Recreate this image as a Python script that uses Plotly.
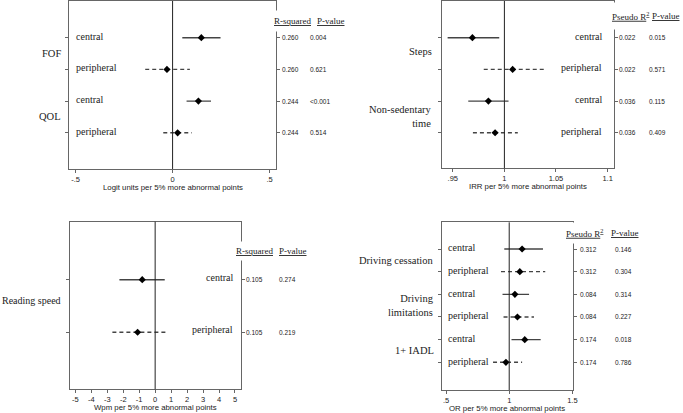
import plotly.graph_objects as go

# ---- data ----
fof_labels = ["central", "peripheral", "central", "peripheral"]
fof_groups = ["FOF", "QOL"]
fof_est = [0.148, -0.029, 0.133, 0.026]
fof_lo = [0.050, -0.141, 0.072, -0.048]
fof_hi = [0.247, 0.089, 0.198, 0.099]
fof_r2 = ["0.260", "0.260", "0.244", "0.244"]
fof_p = ["0.004", "0.621", "&lt;0.001", "0.514"]

act_labels = ["central", "peripheral", "central", "peripheral"]
act_groups = ["Steps", "Non-sedentary<br>time"]
act_est = [0.969, 1.008, 0.9845, 0.991]
act_lo = [0.945, 0.980, 0.965, 0.9695]
act_hi = [0.995, 1.039, 1.004, 1.013]
act_r2 = ["0.022", "0.022", "0.036", "0.036"]
act_p = ["0.015", "0.571", "0.115", "0.409"]

read_labels = ["central", "peripheral"]
read_groups = ["Reading speed"]
read_est = [-0.81, -1.10]
read_lo = [-2.24, -2.68]
read_hi = [0.60, 0.65]
read_r2 = ["0.105", "0.105"]
read_p = ["0.274", "0.219"]

drv_labels = ["central", "peripheral"] * 3
drv_groups = ["Driving cessation", "Driving<br>limitations", "1+ IADL"]
drv_est = [1.102, 1.084, 1.045, 1.065, 1.123, 0.974]
drv_lo = [0.961, 0.935, 0.947, 0.955, 1.018, 0.872]
drv_hi = [1.267, 1.285, 1.157, 1.196, 1.249, 1.102]
drv_r2 = ["0.312", "0.312", "0.084", "0.084", "0.174", "0.174"]
drv_p = ["0.146", "0.304", "0.314", "0.227", "0.018", "0.786"]

SERIF = "Liberation Serif, Times New Roman, serif"
SANS = "Liberation Sans, Arial, sans-serif"
BOX = "#666"
INK = "#222"

fig = go.Figure()
annotations = []
shapes = []

panels = [
    dict(labels=fof_labels, groups=fof_groups, group_y=[1.5, 3.5], est=fof_est, lo=fof_lo, hi=fof_hi,
         r2=fof_r2, p=fof_p, head1="R-squared", ref=0,
         xdom=[0.1025, 0.4066], ydom=[0.5908, 0.9976], xrange=[-0.531, 0.531], yrange=[5.142, -0.158],
         tickvals=[-0.5, 0, 0.5], ticktext=["-.5", "0", ".5"],
         xtitle="Logit units per 5% more abnormal points",
         lab_x=0.024, lab_anchor="left", grp_x=-0.038, grp_size=10.5,
         r2_x=1.019, p_x=1.155, h1_x=0.962, h2_x=1.192, h_y=0.464, pad=5),
    dict(labels=act_labels, groups=act_groups, group_y=[1.45, 3.5], est=act_est, lo=act_lo, hi=act_hi,
         r2=act_r2, p=act_p, head1="Pseudo R<sup>2</sup>", ref=1,
         xdom=[0.6526, 0.9053], ydom=[0.5925, 0.9976], xrange=[0.940, 1.106], yrange=[5.12, -0.158],
         tickvals=[0.95, 1, 1.05, 1.1], ticktext=[".95", "1", "1.05", "1.1"],
         xtitle="IRR per 5% more abnormal points",
         lab_x=0.944, lab_anchor="right", grp_x=-0.058, grp_size=10.5,
         r2_x=1.016, p_x=1.196, h1_x=0.94, h2_x=1.21, h_y=0.315, pad=7),
    dict(labels=read_labels, groups=read_groups, group_y=[1.4], est=read_est, lo=read_lo, hi=read_hi,
         r2=read_r2, p=read_p, head1="R-squared", ref=0,
         xdom=[0.1029, 0.3548], ydom=[0.0574, 0.4632], xrange=[-5.35, 5.35], yrange=[3.084, -0.103],
         tickvals=list(range(-5, 6)), ticktext=[str(v) for v in range(-5, 6)],
         xtitle="Wpm per 5% more abnormal points",
         lab_x=0.966, lab_anchor="right", grp_x=-0.045, grp_size=10,
         r2_x=1.0215, p_x=1.215, h1_x=0.944, h2_x=1.215, h_y=0.454, pad=4),
    dict(labels=drv_labels, groups=drv_groups, group_y=[1.5, 3.5, 5.5], est=drv_est, lo=drv_lo, hi=drv_hi,
         r2=drv_r2, p=drv_p, head1="Pseudo R<sup>2</sup>", ref=1,
         xdom=[0.6515, 0.8452], ydom=[0.0557, 0.4617], xrange=[0.466, 1.505], yrange=[7.222, -0.178],
         tickvals=[0.5, 1, 1.5], ticktext=[".5", "1", "1.5"],
         xtitle="OR per 5% more abnormal points",
         lab_x=0.03, lab_anchor="left", grp_x=-0.05, grp_size=10.5,
         r2_x=1.038, p_x=1.302, h1_x=0.912, h2_x=1.27, h_y=0.307, pad=4),
]

layout_axes = {}
for i, pn in enumerate(panels, start=1):
    xa = "x" if i == 1 else f"x{i}"
    ya = "y" if i == 1 else f"y{i}"
    rows = list(range(1, len(pn["est"]) + 1))

    # confidence interval lines
    for r, lab, lo, hi in zip(rows, pn["labels"], pn["lo"], pn["hi"]):
        fig.add_trace(go.Scatter(
            x=[lo, hi], y=[r, r], mode="lines", xaxis=xa, yaxis=ya,
            line=dict(color="#444", width=1.4, dash="solid" if lab == "central" else "4px,3px"),
            showlegend=False, hoverinfo="skip"))
    # point estimates
    fig.add_trace(go.Scatter(
        x=pn["est"], y=rows, mode="markers", xaxis=xa, yaxis=ya,
        marker=dict(symbol="diamond", size=5.5, color="black"),
        showlegend=False))

    # reference line
    shapes.append(dict(type="line", xref=xa, yref=f"{ya} domain", x0=pn["ref"], x1=pn["ref"],
                       y0=0, y1=1, line=dict(color=INK, width=1)))

    # row labels, group labels, stats columns
    for r, lab, r2, p in zip(rows, pn["labels"], pn["r2"], pn["p"]):
        annotations.append(dict(xref=f"{xa} domain", yref=ya, x=pn["lab_x"], y=r - 0.05, text=lab,
                                xanchor=pn["lab_anchor"], showarrow=False,
                                font=dict(family=SERIF, size=10, color=INK)))
        annotations.append(dict(xref=f"{xa} domain", yref=ya, x=pn["r2_x"], y=r, text=r2,
                                xanchor="left", showarrow=False,
                                font=dict(family=SANS, size=6.5, color=INK)))
        annotations.append(dict(xref=f"{xa} domain", yref=ya, x=pn["p_x"], y=r, text=p,
                                xanchor="left", showarrow=False,
                                font=dict(family=SANS, size=6.5, color=INK)))
    for g, gy in zip(pn["groups"], pn["group_y"]):
        annotations.append(dict(xref=f"{xa} domain", yref=ya, x=pn["grp_x"], y=gy, text=g,
                                xanchor="right", align="right", showarrow=False, borderpad=0,
                                font=dict(family=SERIF, size=pn["grp_size"], color=INK)))
    # column headers (white box hides the right frame line)
    annotations.append(dict(xref=f"{xa} domain", yref=ya, x=pn["h1_x"], y=pn["h_y"],
                            text=f"<u>{pn['head1']}</u>", xanchor="left", showarrow=False,
                            bgcolor="white", borderpad=pn["pad"],
                            font=dict(family=SERIF, size=9, color=INK)))
    annotations.append(dict(xref=f"{xa} domain", yref=ya, x=pn["h2_x"], y=pn["h_y"],
                            text="<u>P-value</u>", xanchor="left", showarrow=False,
                            font=dict(family=SERIF, size=9, color=INK)))
    # x-axis title
    annotations.append(dict(xref=f"{xa} domain", yref=f"{ya} domain", x=0.5, y=-0.11,
                            text=pn["xtitle"], xanchor="center", yanchor="middle", showarrow=False,
                            font=dict(family=SANS, size=7.8, color=INK)))

    layout_axes["xaxis" if i == 1 else f"xaxis{i}"] = dict(
        domain=pn["xdom"], anchor=ya, range=pn["xrange"], tickvals=pn["tickvals"],
        ticktext=pn["ticktext"], showgrid=False, zeroline=False, showline=True, mirror=True,
        linecolor=BOX, linewidth=1, ticks="outside", ticklen=3, tickcolor=BOX,
        tickfont=dict(family=SANS, size=7.5, color=INK))
    layout_axes["yaxis" if i == 1 else f"yaxis{i}"] = dict(
        domain=pn["ydom"], anchor=xa, range=pn["yrange"], tickvals=rows, showticklabels=False,
        showgrid=False, zeroline=False, showline=True, mirror="ticks",
        linecolor=BOX, linewidth=1, ticks="outside", ticklen=3, tickcolor=BOX)

fig.update_layout(
    width=683, height=413,
    margin=dict(l=0, r=0, t=0, b=0),
    paper_bgcolor="white", plot_bgcolor="white",
    showlegend=False,
    annotations=annotations, shapes=shapes,
    **layout_axes,
)

fig.write_html("out.html", config={"displayModeBar": False},
               post_script=["document.body.style.margin='0px';"])
